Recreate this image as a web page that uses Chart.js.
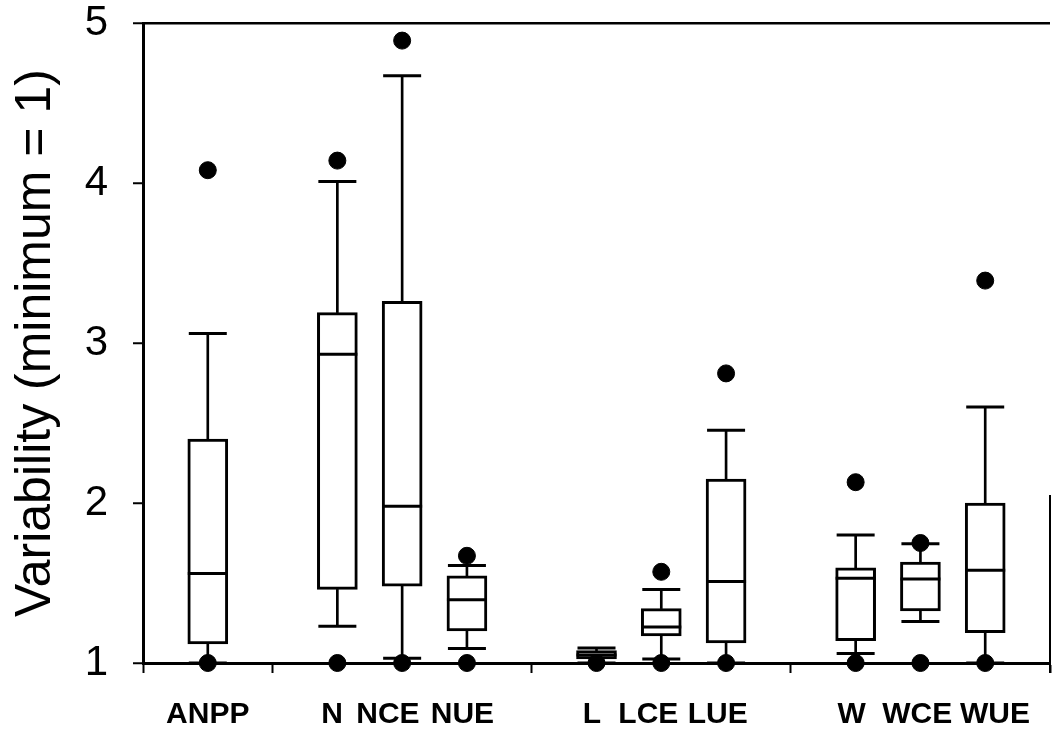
<!DOCTYPE html>
<html>
<head>
<meta charset="utf-8">
<script src="https://cdn.jsdelivr.net/npm/chart.js@4"></script>
<style>
  body { margin: 0; background: #fff; }
  #wrap { width: 1052px; height: 730px; position: relative; }
</style>
</head>
<body>
<div id="wrap"><canvas id="box-chart"></canvas></div>
<script>
// --- Data ---
const labels = ["ANPP", "N", "NCE", "NUE", "L", "LCE", "LUE", "W", "WCE", "WUE"];
const positions = [0, 2, 3, 4, 6, 7, 8, 10, 11, 12];
// where the printed category names sit under the axis
const labelPos = [0, 1.92, 2.78, 3.93, 5.93, 6.8, 7.87, 9.94, 10.95, 12.15];
const separators = [-1, 1, 5, 9, 13];
const yTicks = [1, 2, 3, 4, 5];

const lowCap = [1.0, 1.23, 1.03, 1.09, 1.0, 1.025, 1.0, 1.06, 1.26, 1.0];
const q1 = [1.12, 1.46, 1.48, 1.2, 1.025, 1.17, 1.125, 1.14, 1.325, 1.19];
const median = [1.56, 2.93, 1.98, 1.395, 1.05, 1.225, 1.51, 1.53, 1.525, 1.58];
const q3 = [2.4, 3.19, 3.26, 1.545, 1.077, 1.34, 2.15, 1.595, 1.63, 2.0];
const highCap = [3.06, 4.01, 4.67, 1.61, 1.094, 1.46, 2.455, 1.8, 1.745, 2.6];
const maxPoint = [4.08, 4.14, 4.89, 1.67, null, 1.57, 2.81, 2.13, 1.75, 3.39];
const minPoint = [1, 1, 1, 1, 1, 1, 1, 1, 1, 1];

const FONT = "'Liberation Sans', Arial, Helvetica, sans-serif";

const pts = (arr) => positions.map((p, i) => ({ x: p, y: arr[i] })).filter((d) => d.y !== null);
const range = (a, b) => positions.map((p, i) => ({ x: p, y: [a[i], b[i]] }));

// partial right frame line seen in the figure
const rightEdge = {
  id: "rightEdge",
  afterDraw(chart) {
    const { ctx, chartArea, scales } = chart;
    ctx.save();
    ctx.strokeStyle = "#000";
    ctx.lineWidth = 2;
    ctx.beginPath();
    ctx.moveTo(chartArea.right, scales.y.getPixelForValue(2.05));
    ctx.lineTo(chartArea.right, scales.y.getPixelForValue(1) + 10);
    ctx.stroke();
    ctx.restore();
  },
};

const ctx = document.getElementById("box-chart").getContext("2d");
new Chart(ctx, {
  type: "bar",
  data: {
    datasets: [
      {
        label: "upper whisker",
        data: range(q3, highCap),
        backgroundColor: "#000",
        barThickness: 2,
        grouped: false,
        order: 6,
      },
      {
        label: "lower whisker",
        data: range(lowCap, q1),
        backgroundColor: "#000",
        barThickness: 2,
        grouped: false,
        order: 6,
      },
      {
        label: "box",
        data: range(q1, q3),
        backgroundColor: "#fff",
        borderColor: "#000",
        borderWidth: 3,
        borderSkipped: false,
        barThickness: 40,
        grouped: false,
        order: 5,
      },
      {
        type: "scatter",
        label: "median",
        data: pts(median),
        pointStyle: "line",
        radius: 20,
        borderColor: "#000",
        borderWidth: 3,
        order: 3,
      },
      {
        type: "scatter",
        label: "caps",
        data: pts(highCap).concat(pts(lowCap)),
        pointStyle: "line",
        radius: 19,
        borderColor: "#000",
        borderWidth: 3,
        order: 3,
        clip: false,
      },
      {
        type: "scatter",
        label: "max",
        data: pts(maxPoint),
        pointStyle: "circle",
        radius: 8.5,
        backgroundColor: "#000",
        borderColor: "#000",
        order: 1,
      },
      {
        type: "scatter",
        label: "min",
        data: pts(minPoint),
        pointStyle: "circle",
        radius: 8.5,
        backgroundColor: "#000",
        borderColor: "#000",
        order: 1,
        clip: false,
      },
    ],
  },
  options: {
    responsive: true,
    maintainAspectRatio: false,
    animation: false,
    layout: { autoPadding: false, padding: { top: 23, right: 2, bottom: 0, left: 0 } },
    plugins: { legend: { display: false }, tooltip: { enabled: false } },
    scales: {
      x: {
        type: "linear",
        offset: false,
        min: -1,
        max: 13,
        afterBuildTicks: (s) => {
          s.ticks = separators.concat(labelPos).sort((a, b) => a - b).map((v) => ({ value: v }));
        },
        afterFit: (s) => {
          s.height = 67;
          s.paddingLeft = 0;
          s.paddingRight = 0;
        },
        ticks: {
          autoSkip: false,
          maxRotation: 0,
          padding: 24,
          color: "#000",
          font: { family: FONT, size: 30, weight: "bold" },
          callback: (v) => {
            const i = labelPos.indexOf(v);
            return i >= 0 ? labels[i] : "";
          },
        },
        grid: {
          offset: false,
          drawOnChartArea: false,
          tickLength: 10,
          tickWidth: 2,
          tickColor: (c) => (c.tick && separators.includes(c.tick.value) ? "#000" : "rgba(0,0,0,0)"),
        },
        border: { color: "#000", width: 3 },
      },
      y: {
        min: 1,
        max: 5,
        afterBuildTicks: (s) => { s.ticks = yTicks.map((v) => ({ value: v })); },
        afterFit: (s) => {
          s.width = 143;
          s.paddingTop = 0;
          s.paddingBottom = 0;
        },
        ticks: {
          padding: 25,
          color: "#000",
          font: { family: FONT, size: 42 },
        },
        grid: {
          color: (c) => (c.tick && c.tick.value === 5 ? "#000" : "rgba(0,0,0,0)"),
          lineWidth: 2.5,
          tickLength: 10,
          tickWidth: 2,
          tickColor: "#000",
        },
        border: { color: "#000", width: 3 },
        title: {
          display: true,
          text: "Variability (minimum = 1)",
          color: "#000",
          font: { family: FONT, size: 50 },
          padding: { top: 6, bottom: 0 },
        },
      },
    },
  },
  plugins: [rightEdge],
});
</script>
</body>
</html>
